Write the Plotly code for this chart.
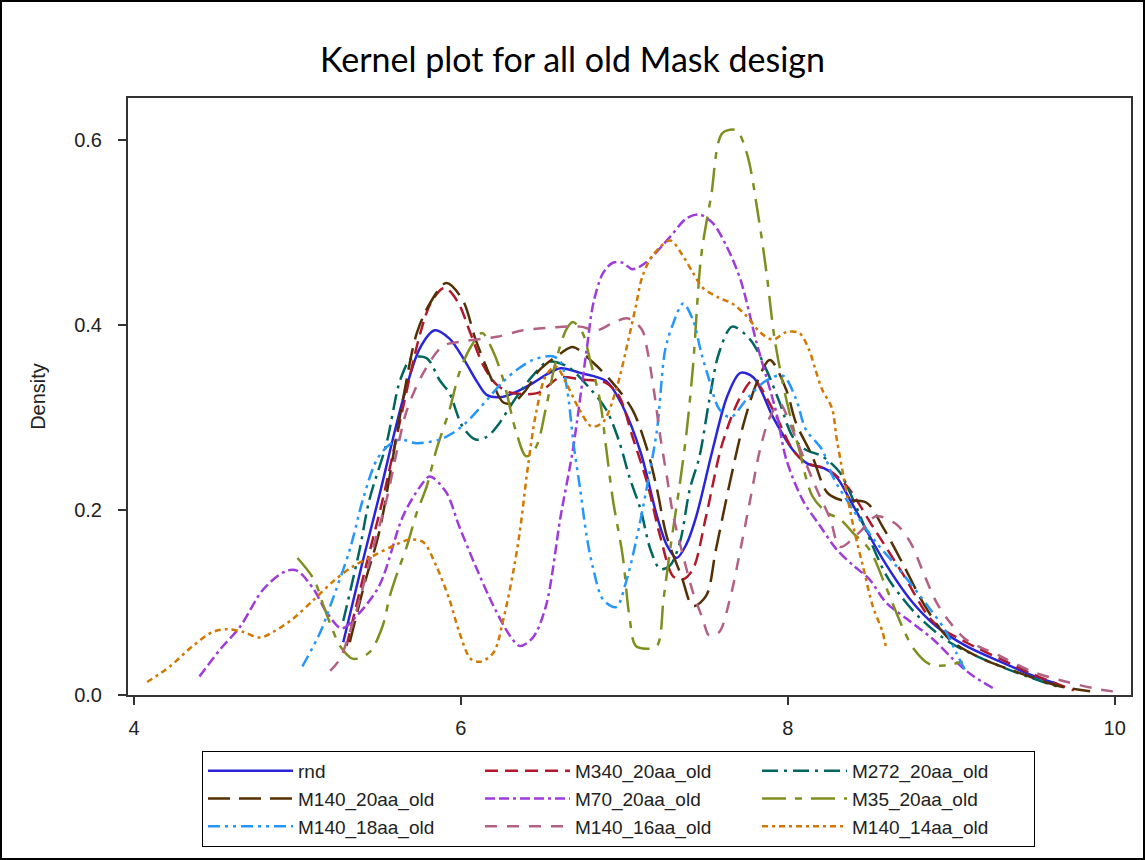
import plotly.graph_objects as go

# ---------------- data ----------------
rnd_x = [5.28, 5.4, 5.5, 5.645, 5.75, 5.84, 5.93, 6.01, 6.1, 6.16, 6.25, 6.32, 6.44, 6.53, 6.61, 6.73, 6.89, 6.99, 7.1, 7.2, 7.26, 7.32, 7.38, 7.44, 7.54, 7.63, 7.71, 7.79, 7.91, 8.03, 8.12, 8.22, 8.3, 8.38, 8.58, 8.75, 8.91, 9.09, 9.3, 9.5, 9.65]
rnd_y = [0.057, 0.145, 0.215, 0.319, 0.375, 0.394, 0.385, 0.365, 0.338, 0.324, 0.322, 0.326, 0.337, 0.347, 0.353, 0.348, 0.339, 0.312, 0.262, 0.193, 0.162, 0.148, 0.163, 0.193, 0.265, 0.323, 0.348, 0.343, 0.30, 0.265, 0.25, 0.245, 0.235, 0.211, 0.147, 0.103, 0.074, 0.053, 0.036, 0.021, 0.012]

m340_x = [5.30, 5.42, 5.52, 5.645, 5.75, 5.82, 5.90, 5.98, 6.06, 6.14, 6.22, 6.30, 6.40, 6.48, 6.605, 6.73, 6.89, 6.97, 7.05, 7.14, 7.22, 7.30, 7.36, 7.42, 7.50, 7.60, 7.71, 7.79, 7.91, 8.03, 8.11, 8.24, 8.36, 8.52, 8.70, 8.89, 9.09, 9.30, 9.52, 9.75]
m340_y = [0.053, 0.14, 0.21, 0.31, 0.39, 0.425, 0.44, 0.425, 0.39, 0.355, 0.335, 0.327, 0.325, 0.327, 0.343, 0.341, 0.337, 0.322, 0.279, 0.229, 0.171, 0.128, 0.125, 0.136, 0.193, 0.272, 0.322, 0.34, 0.308, 0.265, 0.251, 0.244, 0.226, 0.182, 0.132, 0.079, 0.057, 0.039, 0.021, 0.005]

m272_x = [5.28, 5.38, 5.44, 5.545, 5.63, 5.70, 5.79, 5.87, 5.93, 6.01, 6.09, 6.16, 6.22, 6.34, 6.44, 6.53, 6.65, 6.79, 6.89, 6.97, 7.03, 7.10, 7.16, 7.22, 7.28, 7.34, 7.40, 7.46, 7.52, 7.58, 7.66, 7.77, 7.87, 7.95, 8.03, 8.11, 8.21, 8.32, 8.40, 8.60, 8.70, 8.81, 8.99, 9.30, 9.65]
m272_y = [0.08, 0.157, 0.211, 0.272, 0.341, 0.364, 0.364, 0.34, 0.326, 0.29, 0.276, 0.279, 0.29, 0.322, 0.345, 0.36, 0.355, 0.331, 0.308, 0.273, 0.236, 0.20, 0.157, 0.136, 0.14, 0.165, 0.222, 0.258, 0.319, 0.37, 0.398, 0.384, 0.351, 0.316, 0.279, 0.265, 0.258, 0.24, 0.211, 0.13, 0.105, 0.083, 0.057, 0.031, 0.009]

m140_20_x = [5.32, 5.41, 5.50, 5.645, 5.73, 5.81, 5.91, 6.01, 6.09, 6.18, 6.26, 6.32, 6.40, 6.48, 6.61, 6.685, 6.81, 6.93, 7.05, 7.14, 7.20, 7.26, 7.35, 7.42, 7.50, 7.56, 7.645, 7.725, 7.81, 7.89, 7.99, 8.05, 8.15, 8.24, 8.32, 8.48, 8.58, 8.70, 8.85, 8.99, 9.19, 9.40, 9.65, 9.85]
m140_20_y = [0.057, 0.12, 0.176, 0.319, 0.391, 0.423, 0.445, 0.427, 0.384, 0.344, 0.316, 0.316, 0.33, 0.351, 0.369, 0.376, 0.359, 0.337, 0.308, 0.265, 0.222, 0.171, 0.128, 0.096, 0.107, 0.157, 0.229, 0.29, 0.337, 0.362, 0.33, 0.294, 0.258, 0.219, 0.211, 0.208, 0.182, 0.143, 0.093, 0.06, 0.039, 0.025, 0.01, 0.004]

m70_x = [4.40, 4.53, 4.65, 4.79, 4.93, 5.0, 5.10, 5.18, 5.27, 5.36, 5.50, 5.645, 5.75, 5.81, 5.91, 5.99, 6.09, 6.20, 6.30, 6.36, 6.44, 6.52, 6.61, 6.685, 6.77, 6.81, 6.87, 6.93, 6.99, 7.05, 7.13, 7.28, 7.38, 7.46, 7.54, 7.625, 7.71, 7.81, 7.93, 7.99, 8.09, 8.20, 8.30, 8.40, 8.50, 8.60, 8.73, 8.89, 9.01, 9.13, 9.26]
m70_y = [0.02, 0.05, 0.074, 0.114, 0.134, 0.134, 0.114, 0.089, 0.072, 0.085, 0.118, 0.193, 0.225, 0.236, 0.219, 0.182, 0.139, 0.096, 0.064, 0.053, 0.062, 0.096, 0.193, 0.265, 0.374, 0.423, 0.456, 0.467, 0.467, 0.46, 0.467, 0.495, 0.515, 0.519, 0.51, 0.485, 0.449, 0.38, 0.305, 0.255, 0.211, 0.182, 0.157, 0.14, 0.125, 0.10, 0.082, 0.06, 0.039, 0.021, 0.007]

m35_x = [5.0, 5.10, 5.16, 5.22, 5.26, 5.34, 5.44, 5.52, 5.565, 5.615, 5.67, 5.73, 5.79, 5.85, 5.93, 5.99, 6.06, 6.13, 6.20, 6.26, 6.34, 6.40, 6.46, 6.52, 6.58, 6.645, 6.685, 6.745, 6.79, 6.85, 6.89, 6.93, 6.99, 7.03, 7.07, 7.135, 7.20, 7.24, 7.28, 7.34, 7.38, 7.42, 7.47, 7.53, 7.60, 7.685, 7.75, 7.82, 7.87, 7.92, 7.99, 8.07, 8.15, 8.24, 8.32, 8.40, 8.50, 8.60, 8.70, 8.77, 8.87, 8.96, 9.07]
m35_y = [0.148, 0.125, 0.096, 0.068, 0.053, 0.039, 0.046, 0.074, 0.107, 0.134, 0.161, 0.197, 0.225, 0.265, 0.308, 0.348, 0.376, 0.391, 0.37, 0.34, 0.283, 0.258, 0.268, 0.31, 0.36, 0.395, 0.403, 0.391, 0.362, 0.319, 0.265, 0.211, 0.15, 0.086, 0.053, 0.05, 0.053, 0.104, 0.157, 0.229, 0.283, 0.355, 0.474, 0.538, 0.607, 0.61, 0.585, 0.517, 0.456, 0.384, 0.32, 0.265, 0.215, 0.197, 0.19, 0.175, 0.157, 0.117, 0.074, 0.05, 0.033, 0.032, 0.036]

m140_18_x = [5.03, 5.14, 5.20, 5.32, 5.40, 5.485, 5.56, 5.63, 5.73, 5.87, 5.95, 6.03, 6.16, 6.25, 6.34, 6.44, 6.56, 6.61, 6.65, 6.69, 6.73, 6.77, 6.81, 6.87, 6.95, 7.01, 7.07, 7.135, 7.20, 7.25, 7.30, 7.36, 7.42, 7.47, 7.52, 7.58, 7.65, 7.75, 7.87, 7.97, 8.05, 8.11, 8.21, 8.275, 8.40, 8.54, 8.68, 8.87, 8.97, 9.03, 9.09]
m140_18_y = [0.031, 0.068, 0.096, 0.157, 0.211, 0.254, 0.27, 0.276, 0.272, 0.276, 0.283, 0.294, 0.319, 0.337, 0.351, 0.362, 0.366, 0.36, 0.33, 0.27, 0.222, 0.171, 0.136, 0.103, 0.095, 0.122, 0.165, 0.222, 0.287, 0.373, 0.402, 0.423, 0.405, 0.37, 0.34, 0.309, 0.30, 0.32, 0.34, 0.345, 0.32, 0.287, 0.265, 0.236, 0.2, 0.165, 0.136, 0.093, 0.068, 0.046, 0.025]

m140_16_x = [5.20, 5.26, 5.32, 5.38, 5.46, 5.545, 5.61, 5.67, 5.77, 5.89, 6.01, 6.22, 6.38, 6.56, 6.73, 6.83, 6.93, 7.01, 7.05, 7.11, 7.14, 7.18, 7.22, 7.26, 7.30, 7.36, 7.42, 7.48, 7.52, 7.58, 7.645, 7.71, 7.77, 7.83, 7.89, 7.95, 8.02, 8.10, 8.17, 8.26, 8.32, 8.44, 8.54, 8.66, 8.75, 8.83, 8.91, 8.99, 9.09, 9.30, 9.50, 9.71, 9.91, 10.03]
m140_16_y = [0.026, 0.039, 0.068, 0.103, 0.157, 0.211, 0.265, 0.308, 0.348, 0.377, 0.382, 0.387, 0.394, 0.397, 0.398, 0.394, 0.402, 0.407, 0.405, 0.394, 0.373, 0.33, 0.279, 0.236, 0.193, 0.15, 0.111, 0.082, 0.064, 0.068, 0.103, 0.157, 0.211, 0.265, 0.30, 0.315, 0.29, 0.255, 0.225, 0.19, 0.16, 0.176, 0.193, 0.185, 0.165, 0.132, 0.10, 0.079, 0.06, 0.042, 0.025, 0.014, 0.006, 0.003]

m140_14_x = [4.08, 4.22, 4.36, 4.48, 4.57, 4.67, 4.77, 4.85, 4.97, 5.10, 5.22, 5.34, 5.46, 5.585, 5.69, 5.77, 5.85, 5.93, 5.99, 6.06, 6.12, 6.20, 6.26, 6.32, 6.36, 6.41, 6.46, 6.52, 6.58, 6.65, 6.72, 6.80, 6.87, 6.95, 7.03, 7.07, 7.11, 7.17, 7.28, 7.36, 7.42, 7.48, 7.58, 7.66, 7.75, 7.83, 7.91, 7.99, 8.07, 8.13, 8.17, 8.21, 8.27, 8.30, 8.40, 8.46, 8.52, 8.58, 8.60]
m140_14_y = [0.014, 0.031, 0.053, 0.068, 0.071, 0.068, 0.062, 0.068, 0.082, 0.103, 0.123, 0.139, 0.15, 0.161, 0.168, 0.165, 0.139, 0.103, 0.068, 0.039, 0.036, 0.046, 0.082, 0.133, 0.176, 0.247, 0.305, 0.345, 0.355, 0.335, 0.31, 0.29, 0.295, 0.33, 0.388, 0.42, 0.452, 0.474, 0.491, 0.474, 0.456, 0.44, 0.429, 0.423, 0.409, 0.392, 0.384, 0.392, 0.391, 0.373, 0.351, 0.33, 0.31, 0.276, 0.183, 0.139, 0.096, 0.068, 0.052]

x_ticks = [4, 6, 8, 10]
y_ticks = [0.0, 0.2, 0.4, 0.6]
y_tick_labels = ["0.0", "0.2", "0.4", "0.6"]

title_text = "Kernel plot for all old Mask design"
y_title = "Density"

# legend order (row-wise, as in the reference)
series = [
    ("rnd", rnd_x, rnd_y, "#2A25D9", "solid"),
    ("M340_20aa_old", m340_x, m340_y, "#B2182B", "13px,7px"),
    ("M272_20aa_old", m272_x, m272_y, "#01665E", "16px,6px,3px,6px"),
    ("M140_20aa_old", m140_20_x, m140_20_y, "#543005", "22px,9px"),
    ("M70_20aa_old", m70_x, m70_y, "#9D3CDB", "10px,4px,10px,4px,3px,4px"),
    ("M35_20aa_old", m35_x, m35_y, "#7F8E1F", "24px,9px,7px,9px"),
    ("M140_18aa_old", m140_18_x, m140_18_y, "#2597FA", "12px,5px,3px,5px,3px,5px"),
    ("M140_16aa_old", m140_16_x, m140_16_y, "#B26084", "12px,10px"),
    ("M140_14aa_old", m140_14_x, m140_14_y, "#D17800", "6px,4px,3px,4px"),
]

fig = go.Figure()
for name, xs, ys, col, dash in series:
    fig.add_trace(go.Scatter(
        x=xs, y=ys, name=name, mode="lines",
        line=dict(color=col, width=2.5, dash=dash, shape="spline", smoothing=0.9),
    ))

W, H = 1145, 860
L, R, T, B = 128, 14, 98, 165
pw, ph = W - L - R, H - T - B

def px2paper_x(px):
    return (px - L) / pw

def px2paper_y(py):
    return (H - B - py) / ph

axis_font = dict(family="Liberation Sans, Arial, sans-serif", size=20, color="#222222")
legend_font = dict(family="Liberation Sans, Arial, sans-serif", size=19, color="#222222")

fig.update_layout(
    width=W, height=H,
    margin=dict(l=L, r=R, t=T, b=B, autoexpand=False),
    paper_bgcolor="white", plot_bgcolor="white",
    title=dict(text=title_text, x=0.5, xanchor="center", xref="container",
               y=1 - 60 / H, yref="container", yanchor="middle",
               font=dict(family="Lato, Open Sans, sans-serif", size=34, color="black")),
    xaxis=dict(range=[3.963, 10.10], tickvals=x_ticks, showgrid=False, zeroline=False,
               showline=True, linecolor="#333333", linewidth=2, mirror=True,
               ticks="outside", ticklen=8, tickwidth=1.5, tickcolor="#333333",
               ticklabelstandoff=6, tickfont=axis_font, automargin=False),
    yaxis=dict(range=[0, 0.645], tickvals=y_ticks, ticktext=y_tick_labels, showgrid=False,
               zeroline=False, showline=True, linecolor="#333333", linewidth=2, mirror=True,
               ticks="outside", ticklen=8, tickwidth=1.5, tickcolor="#333333",
               ticklabelstandoff=12, tickfont=axis_font, automargin=False,
               title=dict(text=y_title, font=axis_font, standoff=23)),
    legend=dict(orientation="h", x=px2paper_x(202), xanchor="left",
                y=px2paper_y(751), yanchor="top",
                bordercolor="black", borderwidth=1, bgcolor="white",
                itemwidth=85, entrywidth=177, entrywidthmode="pixels",
                font=legend_font, tracegroupgap=0),
    shapes=[dict(type="rect", xref="paper", yref="paper",
                 x0=px2paper_x(1), x1=px2paper_x(W - 1),
                 y0=px2paper_y(H - 1), y1=px2paper_y(1),
                 line=dict(color="black", width=2), fillcolor="rgba(0,0,0,0)",
                 layer="below")],
)

fig.write_html("out.html")
